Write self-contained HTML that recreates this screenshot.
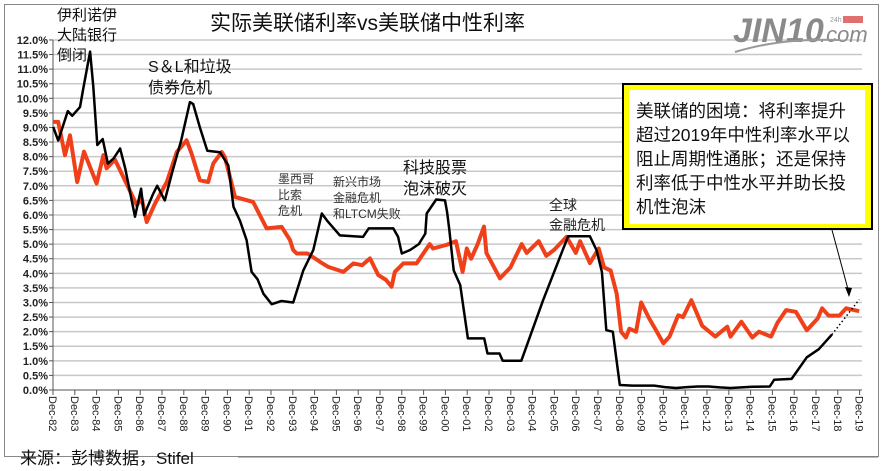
<!DOCTYPE html>
<html><head><meta charset="utf-8">
<style>
body{margin:0;background:#fff;}
svg{display:block;font-family:"Liberation Sans","Noto Sans CJK SC",sans-serif;}
</style></head>
<body>
<svg width="890" height="471" viewBox="0 0 890 471">
<rect x="0" y="0" width="890" height="471" fill="#fff"/>
<rect x="4.5" y="4.5" width="874" height="452" fill="none" stroke="#888" stroke-width="1"/>
<g id="grid"></g>
<g id="yaxis"></g>
<g id="xaxis"></g>
<g id="series"></g>
<text x="210" y="30" font-size="21" fill="#111">实际美联储利率vs美联储中性利率</text>
<g>
<text x="733" y="42" font-size="34" font-weight="bold" font-style="italic" fill="#8a8a8a">JIN10</text>
<text x="820" y="42" font-size="22" font-style="italic" fill="#8a8a8a">.com</text>
<text x="830" y="22" font-size="7" fill="#999">24h</text>
<rect x="843" y="16" width="20" height="7" fill="#e07070"/>
<path d="M735 52 Q780 38 840 40" stroke="#999" stroke-width="2" fill="none"/>
</g>
<g font-size="15" fill="#111">
<text x="57" y="20"><tspan x="57">伊利诺伊</tspan><tspan x="57" dy="20">大陆银行</tspan><tspan x="57" dy="20">倒闭</tspan></text>
<text x="148" y="72" font-size="16"><tspan x="148">S＆L和垃圾</tspan><tspan x="148" dy="21">债券危机</tspan></text>
<text x="278" y="183" font-size="12" fill="#333"><tspan x="278">墨西哥</tspan><tspan x="278" dy="16">比索</tspan><tspan x="278" dy="16">危机</tspan></text>
<text x="333" y="186" font-size="12" fill="#333"><tspan x="333">新兴市场</tspan><tspan x="333" dy="16">金融危机</tspan><tspan x="333" dy="16">和LTCM失败</tspan></text>
<text x="403" y="173" font-size="16"><tspan x="403">科技股票</tspan><tspan x="403" dy="21">泡沫破灭</tspan></text>
<text x="549" y="210" font-size="14" fill="#222"><tspan x="549">全球</tspan><tspan x="549" dy="20">金融危机</tspan></text>
</g>
<g>
<rect x="622" y="83" width="251" height="147" fill="#000"/>
<rect x="624" y="85" width="247" height="143" fill="#ffff00"/>
<rect x="629" y="90" width="236" height="134" fill="#fff"/>
<text font-size="17.5" fill="#111"><tspan x="636" y="117">美联储的困境：将利率提升</tspan><tspan x="636" y="141">超过2019年中性利率水平以</tspan><tspan x="636" y="165">阻止周期性通胀；还是保持</tspan><tspan x="636" y="189">利率低于中性水平并助长投</tspan><tspan x="636" y="213">机性泡沫</tspan></text>
</g>
<line x1="832" y1="230" x2="849" y2="293" stroke="#000" stroke-width="1"/>
<polygon points="849,297 845,287 852,288" fill="#000"/>
<text x="20" y="464" font-size="17" fill="#111">来源：彭博数据，Stifel</text>
<line x1="238" y1="457" x2="878" y2="457" stroke="#777" stroke-width="1"/>
</svg>
<script>
const yTicks=[0,0.5,1,1.5,2,2.5,3,3.5,4,4.5,5,5.5,6,6.5,7,7.5,8,8.5,9,9.5,10,10.5,11,11.5,12];
const xYears=[82,83,84,85,86,87,88,89,90,91,92,93,94,95,96,97,98,99,0,1,2,3,4,5,6,7,8,9,10,11,12,13,14,15,16,17,18,19];
const blackT=[1982.93,1983.16,1983.6,1983.8,1984.16,1984.3,1984.62,1984.77,1984.95,1985.2,1985.44,1985.7,1986.0,1986.23,1986.68,1986.96,1987.1,1987.5,1987.7,1988.05,1988.4,1988.8,1989.2,1989.35,1989.66,1990.0,1990.58,1990.96,1991.2,1991.5,1991.8,1992.03,1992.3,1992.57,1992.95,1993.4,1993.94,1994.4,1994.86,1995.25,1995.5,1996.08,1997.14,1997.4,1998.53,1998.75,1998.92,1999.3,1999.7,2000.0,2000.06,2000.5,2000.9,2001.0,2001.1,2001.3,2001.6,2001.95,2002.7,2002.85,2003.4,2003.55,2004.4,2005.4,2006.55,2007.55,2007.85,2008.1,2008.3,2008.6,2008.92,2009.5,2010.0,2010.5,2011.0,2011.5,2012.0,2012.5,2013.0,2013.5,2014.0,2014.5,2015.0,2015.8,2016.0,2016.8,2017.5,2018.05,2018.65];
const blackV=[9.02,8.55,9.56,9.4,9.7,10.3,11.6,10.4,8.4,8.6,7.76,7.94,8.28,7.6,5.94,6.9,6.0,6.7,7.0,6.5,7.5,8.56,9.87,9.8,9.0,8.2,8.15,7.7,6.28,5.8,5.14,4.05,3.8,3.3,2.94,3.05,3.0,4.1,4.8,6.05,5.8,5.3,5.25,5.54,5.54,5.25,4.68,4.8,5.0,5.36,6.05,6.53,6.5,6.1,5.5,4.1,3.6,1.77,1.77,1.25,1.25,1.0,1.0,3.08,5.27,5.27,4.8,4.05,2.05,2.0,0.17,0.15,0.15,0.15,0.1,0.07,0.1,0.12,0.12,0.09,0.07,0.09,0.11,0.12,0.35,0.38,1.12,1.4,1.9];
const dotT=[2018.65,2019.9];
const dotV=[1.9,3.1];
const redT=[1982.93,1983.16,1983.47,1983.7,1984.03,1984.34,1984.92,1985.23,1985.38,1985.76,1986.22,1986.76,1986.99,1987.22,1987.6,1988.14,1988.6,1989.05,1989.28,1989.66,1990.04,1990.27,1990.66,1990.8,1991.04,1991.27,1992.1,1992.72,1993.41,1993.79,1993.94,1994.1,1994.6,1995.17,1995.55,1996.24,1996.7,1997.1,1997.46,1997.84,1998.2,1998.45,1998.6,1998.99,1999.6,2000.2,2000.35,2000.95,2001.4,2001.71,2001.9,2002.1,2002.4,2002.69,2002.8,2003.42,2003.9,2004.42,2004.65,2005.2,2005.55,2005.9,2006.48,2006.9,2007.1,2007.55,2007.95,2008.2,2008.5,2008.78,2008.98,2009.2,2009.36,2009.67,2009.9,2010.27,2010.57,2010.92,2011.2,2011.6,2011.82,2012.2,2012.7,2013.3,2013.85,2014.0,2014.5,2015.0,2015.3,2015.86,2016.15,2016.55,2017.0,2017.5,2018.0,2018.2,2018.5,2019.0,2019.3,2019.9];
const redV=[9.19,9.19,8.05,8.73,7.13,8.17,7.08,8.05,7.6,7.9,7.19,6.34,6.56,5.76,6.39,7.13,8.16,8.56,8.1,7.19,7.13,7.76,8.16,7.99,7.3,6.62,6.45,5.54,5.59,5.14,4.8,4.68,4.68,4.39,4.22,4.05,4.34,4.28,4.51,3.94,3.77,3.54,4.05,4.34,4.34,5.0,4.85,4.97,5.1,4.05,4.85,4.5,5.0,5.6,4.7,3.83,4.2,5.0,4.7,5.1,4.6,4.8,5.25,4.7,5.1,4.35,4.85,4.2,4.1,3.3,2.0,1.8,2.1,2.0,3.0,2.45,2.06,1.6,1.83,2.56,2.5,3.08,2.2,1.83,2.17,1.83,2.34,1.8,2.0,1.83,2.3,2.74,2.68,2.05,2.45,2.8,2.55,2.55,2.8,2.7];

const NS='http://www.w3.org/2000/svg';
const X0=53,XPY=21.8,T0=1982.92,Y0=390,YPP=29.17,XR=862;
function xs(t){return X0+(t-T0)*XPY;}
function ys(v){return Y0-v*YPP;}
function mk(tag,attrs,parent){const e=document.createElementNS(NS,tag);for(const k in attrs)e.setAttribute(k,attrs[k]);parent.appendChild(e);return e;}
const grid=document.getElementById('grid'),yax=document.getElementById('yaxis'),xax=document.getElementById('xaxis'),ser=document.getElementById('series');
yTicks.forEach(v=>{
  if(v>0){const g=mk('line',{x1:X0,x2:XR,y1:ys(v),y2:ys(v),stroke:'#c8c8c8','stroke-width':1.5},grid);
  
  }
  const tk=mk('line',{x1:X0-4,x2:X0,y1:ys(v),y2:ys(v),stroke:'#555'},yax);
  const t=mk('text',{x:X0-5,y:ys(v)+4,'text-anchor':'end','font-size':11,'font-weight':'bold',fill:'#222'},yax);
  t.textContent=v.toFixed(1)+'%';
  
  
});
mk('line',{x1:X0,x2:X0,y1:ys(12),y2:Y0,stroke:'#555'},yax);
mk('line',{x1:X0,x2:XR,y1:Y0,y2:Y0,stroke:'#555'},xax);
xYears.forEach((yy,i)=>{
  const x=xs(T0+i);
  mk('line',{x1:x,x2:x,y1:Y0,y2:Y0+5,stroke:'#555'},xax);
  const t=mk('text',{transform:`translate(${x-4},${Y0+6}) rotate(90)`,'font-size':11,fill:'#222'},xax);
  t.textContent='Dec-'+String(yy).padStart(2,'0');
  
  
});
function pts(T,V){return T.map((t,i)=>xs(t).toFixed(1)+','+ys(V[i]).toFixed(1)).join(' ');}
const r=mk('polyline',{points:pts(redT,redV),fill:'none',stroke:'#f0401a','stroke-width':4,'stroke-linejoin':'round'},ser);


const b=mk('polyline',{points:pts(blackT,blackV),fill:'none',stroke:'#000','stroke-width':2.5,'stroke-linejoin':'round'},ser);


const d=mk('polyline',{points:pts(dotT,dotV),fill:'none',stroke:'#000','stroke-width':1.5,'stroke-dasharray':'1.5,2.5'},ser);


</script>
</body></html>
